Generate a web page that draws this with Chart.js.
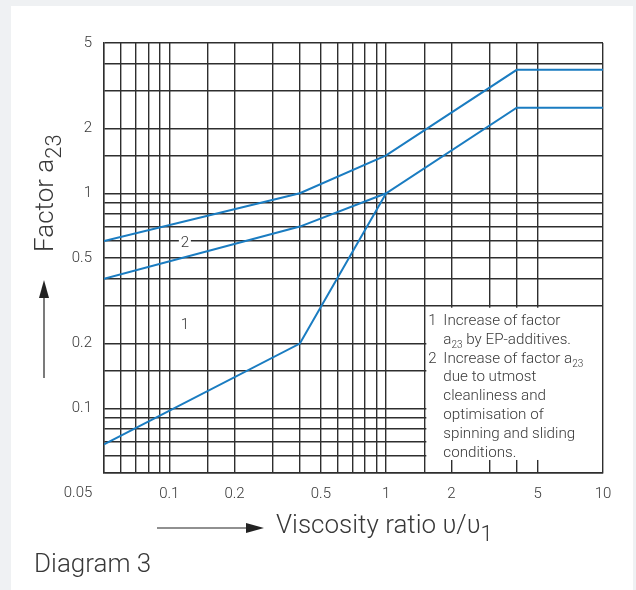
<!DOCTYPE html>
<html>
<head>
<meta charset="utf-8">
<script src="https://cdn.jsdelivr.net/npm/chart.js@4.4.1/dist/chart.umd.min.js"></script>
<style>
  html, body { margin: 0; padding: 0; background: #eff1f3; }
  #wrap { position: absolute; left: 0; top: 0; width: 636px; height: 590px; }
</style>
</head>
<body>
<div id="wrap"><canvas id="chart_diagram" width="636" height="590"></canvas></div>
<script>
// grid lines of the log paper
const xGrid = [0.05, 0.06, 0.07, 0.08, 0.09, 0.1, 0.15, 0.2, 0.3, 0.4, 0.5, 0.6, 0.7, 0.8, 0.9, 1, 1.5, 2, 3, 4, 5, 10]
const yGrid = [0.05, 0.06, 0.07, 0.08, 0.09, 0.1, 0.15, 0.2, 0.3, 0.4, 0.5, 0.6, 0.7, 0.8, 0.9, 1, 1.5, 2, 3, 4, 5]
const xLabels = [0.05, 0.1, 0.2, 0.5, 1, 2, 5, 10]
const yLabels = [0.1, 0.2, 0.5, 1, 2, 5]

// curves (viscosity ratio -> factor a23)
const ratio = [0.05, 0.4, 1, 4, 10]
const curveUpper = [0.6, 1.0, 1.5, 3.75, 3.75]
const curveLower = [0.4, 0.7, 1.0, 2.5, 2.5]
const ratioEP = [0.05, 0.4, 1]
const curveEP = [0.068, 0.2, 1.0]

const legendLines = [
	["1", [["Increase of factor", false]]],
	["", [["a", false], ["23", true], [" by EP-additives.", false]]],
	["2", [["Increase of factor a", false], ["23", true]]],
	["", [["due to utmost", false]]],
	["", [["cleanliness and", false]]],
	["", [["optimisation of", false]]],
	["", [["spinning and sliding", false]]],
	["", [["conditions.", false]]]
]

const FONT = "Roboto, 'Liberation Sans', sans-serif"
const BLUE = "#1a7cc1"
const GRID = "#2e2e2e"
const TXT = "#383838"

function pts(xs, ys){
	return xs.map(function(x, i){ return {x: x, y: ys[i]} })
}

// draws text pieces with subscripts, returns end x
function richText(ctx, parts, x, y, size, subSize, subDrop){
	parts.forEach(function(p){
		var s = p[1] ? subSize : size
		ctx.font = "300 " + s + "px " + FONT
		ctx.fillText(p[0], x, y + (p[1] ? subDrop : 0))
		x += ctx.measureText(p[0]).width
	})
	return x
}

function arrowHead(ctx, x, y, dir){
	ctx.beginPath()
	if (dir == "right") {
		ctx.moveTo(x, y); ctx.lineTo(x - 18, y - 5); ctx.lineTo(x - 18, y + 5)
	} else {
		ctx.moveTo(x, y); ctx.lineTo(x - 5, y + 18); ctx.lineTo(x + 5, y + 18)
	}
	ctx.closePath()
	ctx.fill()
}

const decor = {
	id: "decor",
	beforeDraw: function(chart){
		var ctx = chart.ctx
		ctx.save()
		ctx.fillStyle = "#eff1f3"
		ctx.fillRect(0, 0, chart.width, chart.height)
		ctx.fillStyle = "#ffffff"
		ctx.fillRect(11, 6, 622, chart.height - 6)
		ctx.restore()
	},
	afterDatasetsDraw: function(chart){
		var ctx = chart.ctx
		var xs = chart.scales.x, ys = chart.scales.y
		var area = chart.chartArea
		ctx.save()

		// legend box
		var bl = xs.getPixelForValue(1.5) + 2
		var bt = ys.getPixelForValue(0.3) + 2
		var bb = ys.getPixelForValue(0.06) + 4
		ctx.fillStyle = "#ffffff"
		ctx.fillRect(bl, bt, area.right - 1 - bl, bb - bt)
		ctx.fillStyle = TXT
		ctx.textBaseline = "alphabetic"
		ctx.textAlign = "left"
		legendLines.forEach(function(l, i){
			var by = 325 + i * 18.8
			if (l[0]) {
				ctx.font = "300 15px " + FONT
				ctx.fillText(l[0], bl + 2, by)
			}
			richText(ctx, l[1], bl + 17, by, 15.2, 10, 4)
		})

		// curve labels
		ctx.font = "300 15px " + FONT
		ctx.textAlign = "center"
		var lx = xs.getPixelForValue(0.118)
		var ly = ys.getPixelForValue(0.6)
		ctx.fillStyle = "#ffffff"
		ctx.fillRect(lx - 6, ly - 3, 12, 6)
		ctx.fillStyle = TXT
		ctx.fillText("2", lx, ly + 6)
		ctx.fillText("1", lx, ys.getPixelForValue(0.25) + 6)

		// corner tick label
		ctx.fillText("0.05", area.left - 26, area.bottom + 24)

		// x title with arrow
		ctx.strokeStyle = "#222"
		ctx.fillStyle = "#222"
		ctx.lineWidth = 1.2
		ctx.beginPath(); ctx.moveTo(157, 528); ctx.lineTo(250, 528); ctx.stroke()
		arrowHead(ctx, 264, 528, "right")
		ctx.fillStyle = TXT
		ctx.textAlign = "left"
		richText(ctx, [["Viscosity ratio \u03c5/\u03c5", false], ["1", true]], 276, 533, 26, 22, 8)

		// y title with arrow
		ctx.fillStyle = "#222"
		ctx.beginPath(); ctx.moveTo(44, 294); ctx.lineTo(44, 378); ctx.stroke()
		arrowHead(ctx, 44, 280, "up")
		ctx.save()
		ctx.translate(53, 252)
		ctx.rotate(-Math.PI / 2)
		ctx.fillStyle = TXT
		richText(ctx, [["Factor a", false], ["23", true]], 0, 0, 26, 22, 8)
		ctx.restore()

		// caption
		ctx.fillStyle = TXT
		ctx.font = "300 26px " + FONT
		ctx.fillText("Diagram 3", 34, 572)
		ctx.restore()
	}
}

function lineSet(data){
	return {
		data: data,
		borderColor: BLUE,
		borderWidth: 2,
		pointRadius: 0,
		tension: 0,
		fill: false
	}
}

var ctx = document.getElementById("chart_diagram")
var myChart = new Chart(ctx, {
	type: "line",
	data: {
		datasets: [
			lineSet(pts(ratio, curveUpper)),
			lineSet(pts(ratio, curveLower)),
			lineSet(pts(ratioEP, curveEP))
		]
	},
	options: {
		responsive: false,
		animation: false,
		maintainAspectRatio: false,
		layout: { padding: { left: 0, top: 43, right: 33, bottom: 0 } },
		plugins: { legend: { display: false }, tooltip: { enabled: false } },
		scales: {
			x: {
				type: "logarithmic",
				min: 0.05,
				max: 10,
				afterBuildTicks: function(s){ s.ticks = xGrid.map(function(v){ return {value: v} }) },
				afterFit: function(s){ s.height = 117 },
				ticks: {
					autoSkip: false,
					maxRotation: 0,
					padding: 12,
					color: TXT,
					font: { family: FONT, size: 15, weight: 300 },
					callback: function(v){ return (xLabels.indexOf(v) >= 0 && v != 0.05) ? String(v) : "" }
				},
				grid: { color: GRID, lineWidth: 1.4, drawTicks: false },
				border: { color: GRID, width: 1.4 }
			},
			y: {
				type: "logarithmic",
				min: 0.05,
				max: 5,
				afterBuildTicks: function(s){ s.ticks = yGrid.map(function(v){ return {value: v} }) },
				afterFit: function(s){ s.width = 104 },
				ticks: {
					autoSkip: false,
					padding: 12,
					color: TXT,
					font: { family: FONT, size: 15, weight: 300 },
					callback: function(v){ return yLabels.indexOf(v) >= 0 ? String(v) : "" }
				},
				grid: { color: GRID, lineWidth: 1.4, drawTicks: false },
				border: { color: GRID, width: 1.4 }
			}
		}
	},
	plugins: [decor]
})
</script>
</body>
</html>
